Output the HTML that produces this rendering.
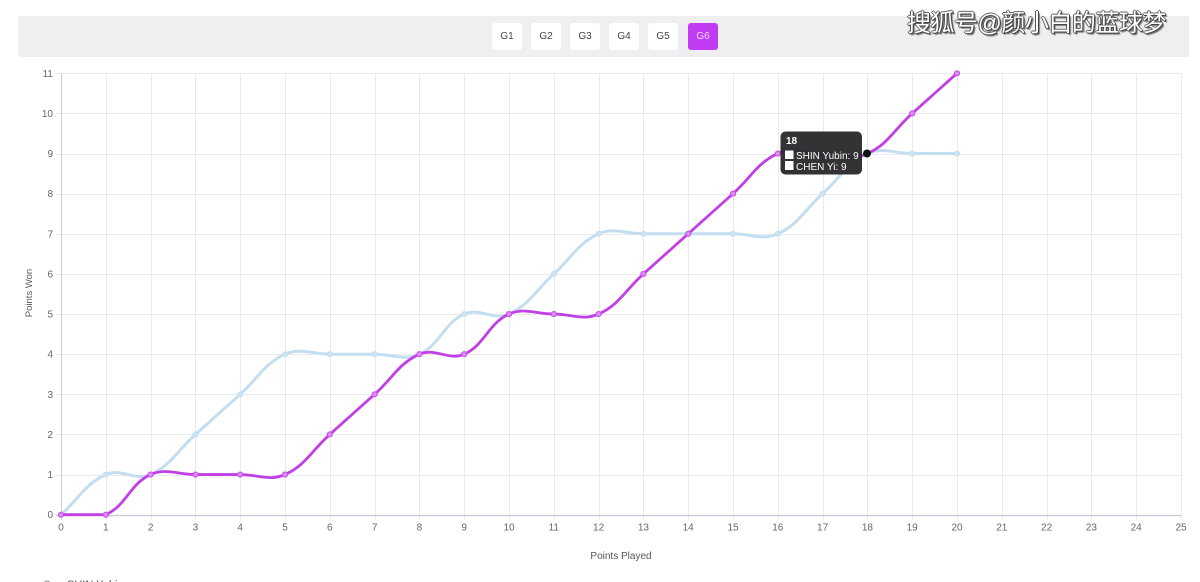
<!DOCTYPE html>
<html>
<head>
<meta charset="utf-8">
<style>
  html,body{margin:0;padding:0;background:#fff;}
  body{width:1200px;height:582px;overflow:hidden;position:relative;font-family:"Liberation Sans",Arial,sans-serif;}
  .bar{position:absolute;left:18px;top:16px;width:1171px;height:41px;background:#efeef1;}
  .btn{position:absolute;top:23px;width:30px;height:27px;background:#fff;border-radius:3px;font-size:10px;color:#444;text-align:center;line-height:27px;font-family:"Liberation Sans",Arial,sans-serif;}
  .btn.on{background:#c13bf2;color:#f6dcff;}
  .wm{position:absolute;left:907px;top:9px;font-size:24px;line-height:30px;color:#fff;font-family:"Liberation Sans","Noto Sans CJK SC","WenQuanYi Zen Hei",sans-serif;
      text-shadow:1px 1px 0 #444,-1px 0 0 #555,0 -1px 0 #666,1px 0 0 #444,0 1px 0 #444,2px 2px 1px #777;letter-spacing:-0.5px;}
  svg{position:absolute;left:0;top:0;}
</style>
</head>
<body>
<div class="bar"></div>
<div class="btn" style="left:492px">G1</div>
<div class="btn" style="left:531px">G2</div>
<div class="btn" style="left:570px">G3</div>
<div class="btn" style="left:609px">G4</div>
<div class="btn" style="left:648px">G5</div>
<div class="btn on" style="left:688px">G6</div>
<div class="wm">搜狐号@颜小白的蓝球梦</div>

<svg id="chart" width="1200" height="582" xmlns="http://www.w3.org/2000/svg" font-family="Liberation Sans, Arial, sans-serif">
  <g id="grid"></g>
  <g id="labels" fill="#666" font-size="10"></g>
  <text x="621" y="559" font-size="10" fill="#555" text-anchor="middle">Points Played</text>
  <text x="0" y="0" font-size="9.5" fill="#555" text-anchor="middle" transform="translate(32,293) rotate(-90)">Points Won</text>
  <path id="blue" fill="none" stroke="#c3def0" stroke-width="3" stroke-linejoin="round" stroke-linecap="round"/>
  <g id="bluepts"></g>
  <path id="purple" fill="none" stroke="#c23fe6" stroke-width="2.8" stroke-linejoin="round" stroke-linecap="round"/>
  <g id="purplepts"></g>
  <circle cx="867" cy="153.5" r="4" fill="#111"/>
  <g id="tooltip">
    <rect x="780.5" y="131.5" width="81.5" height="43" rx="5" fill="#2b2a2c" fill-opacity="0.96"/>
    <text x="786" y="144" font-size="10" font-weight="bold" fill="#fff">18</text>
    <rect x="785" y="150.5" width="8.5" height="8.5" fill="#fff"/>
    <rect x="785" y="161" width="8.5" height="9" fill="#fff"/>
    <text x="796" y="159" font-size="10" fill="#fff">SHIN Yubin: 9</text>
    <text x="796" y="170" font-size="10" fill="#fff">CHEN Yi: 9</text>
  </g>
  <circle cx="47" cy="584" r="3" fill="none" stroke="#888" stroke-width="1"/>
  <text x="67" y="588" font-size="11" fill="#555">SHIN Yubin</text>
</svg>

<script>
(function(){
  var NS="http://www.w3.org/2000/svg";
  var X0=61, DX=44.8, Y0=514.7, DY=40.127;
  function X(i){return X0+i*DX;}
  function Y(v){return Y0-v*DY;}
  var grid=document.getElementById('grid');
  var labels=document.getElementById('labels');
  function line(x1,y1,x2,y2,c,w){var l=document.createElementNS(NS,'line');l.setAttribute('x1',x1);l.setAttribute('y1',y1);l.setAttribute('x2',x2);l.setAttribute('y2',y2);l.setAttribute('stroke',c);l.setAttribute('stroke-width',w||1);grid.appendChild(l);}
  function text(x,y,s,anchor){var t=document.createElementNS(NS,'text');t.setAttribute('x',x);t.setAttribute('y',y);t.setAttribute('text-anchor',anchor);t.textContent=s;labels.appendChild(t);}
  for(var i=0;i<=25;i++){
    var x=Math.round(X(i))+0.5;
    line(x,Y(11),x,Y0+5,'#eceaef',1);
    text(X(i),530.5,String(i),'middle');
  }
  for(var v=0;v<=11;v++){
    var y=Math.round(Y(v))+0.5;
    line(X0-5,y,X(25),y,'#eceaef',1);
    text(53,Y(v)+3.5,String(v),'end');
  }
  line(X0+0.5,Y(11),X0+0.5,Y0+5,'#cfcdd4',1);
  line(X0-5,Math.round(Y0)+0.5,X(25),Math.round(Y0)+0.5,'#cbc5d5',1.2);

  var blue=[0,1,1,2,3,4,4,4,4,5,5,6,7,7,7,7,7,8,9,9,9];
  var purple=[0,0,1,1,1,1,2,3,4,4,5,5,5,6,7,8,9,9,9,10,11];
  var top=Y(11), bot=Y0, left=X0, right=X(25);
  function clamp(v,a,b){return Math.max(a,Math.min(b,v));}
  function spline(data,t){
    var p=data.map(function(v,i){return {x:X(i),y:Y(v)};});
    var n=p.length, cps=[];
    for(var i=0;i<n;i++){
      var pr=p[i-1]||p[i], cu=p[i], nx=p[i+1]||p[i];
      var d01=Math.hypot(cu.x-pr.x,cu.y-pr.y), d12=Math.hypot(nx.x-cu.x,nx.y-cu.y);
      var s01=d01/(d01+d12), s12=d12/(d01+d12);
      if(isNaN(s01))s01=0; if(isNaN(s12))s12=0;
      var fa=t*s01, fb=t*s12;
      cps.push({px:clamp(cu.x-fa*(nx.x-pr.x),left,right),py:clamp(cu.y-fa*(nx.y-pr.y),top,bot),
                nx:clamp(cu.x+fb*(nx.x-pr.x),left,right),ny:clamp(cu.y+fb*(nx.y-pr.y),top,bot)});
    }
    var d='M'+p[0].x.toFixed(2)+' '+p[0].y.toFixed(2);
    for(var j=0;j<n-1;j++){
      d+=' C'+cps[j].nx.toFixed(2)+' '+cps[j].ny.toFixed(2)+' '+cps[j+1].px.toFixed(2)+' '+cps[j+1].py.toFixed(2)+' '+p[j+1].x.toFixed(2)+' '+p[j+1].y.toFixed(2);
    }
    return {d:d,p:p};
  }
  var b=spline(blue,0.4), pu=spline(purple,0.4);
  document.getElementById('blue').setAttribute('d',b.d);
  document.getElementById('purple').setAttribute('d',pu.d);
  function pts(g,p,fill,stroke,r){
    var el=document.getElementById(g);
    p.forEach(function(q){var c=document.createElementNS(NS,'circle');c.setAttribute('cx',q.x);c.setAttribute('cy',q.y);c.setAttribute('r',r);c.setAttribute('fill',fill);c.setAttribute('stroke',stroke);c.setAttribute('stroke-width',1);el.appendChild(c);});
  }
  pts('bluepts',b.p,'#cfe4f3','#c3def0',2.5);
  pts('purplepts',pu.p,'#dc8cf3','#c64fe8',2.6);
})();
</script>
</body>
</html>
